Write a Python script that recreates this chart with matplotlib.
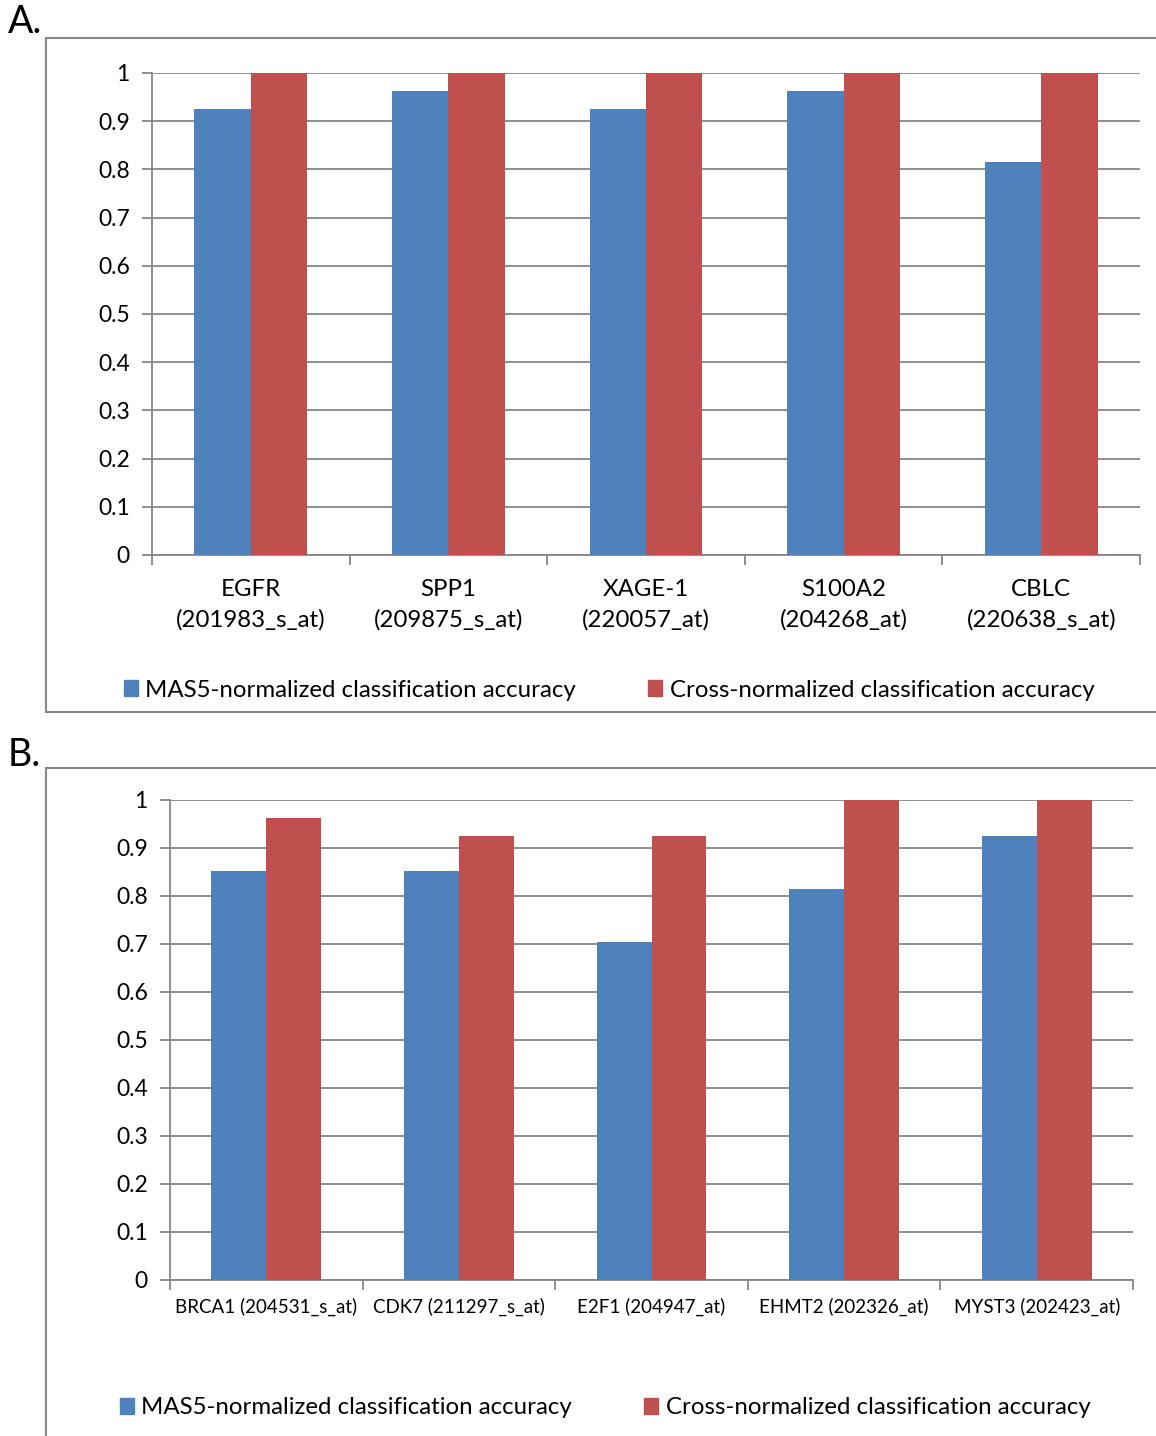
import matplotlib
matplotlib.use("Agg")
import matplotlib.pyplot as plt
from matplotlib.lines import Line2D
from matplotlib.patches import Patch
import numpy as np

plt.rcParams["font.family"] = ["Lato", "DejaVu Sans"]

# %% data
genes_a = ["EGFR\n(201983_s_at)", "SPP1\n(209875_s_at)", "XAGE-1\n(220057_at)",
           "S100A2\n(204268_at)", "CBLC\n(220638_s_at)"]
mas5_a = [0.926, 0.963, 0.926, 0.963, 0.815]
cross_a = [1.0, 1.0, 1.0, 1.0, 1.0]

genes_b = ["BRCA1 (204531_s_at)", "CDK7 (211297_s_at)", "E2F1 (204947_at)",
           "EHMT2 (202326_at)", "MYST3 (202423_at)"]
mas5_b = [0.852, 0.852, 0.704, 0.815, 0.926]
cross_b = [0.963, 0.926, 0.926, 1.0, 1.0]

series_names = ["MAS5-normalized classification accuracy",
                "Cross-normalized classification accuracy"]
BLUE = "#4F81BD"
RED = "#C0504D"
GRID = "#868686"

W, H = 1156, 1436
fig = plt.figure(figsize=(W / 100, H / 100), dpi=100)


def px_axes(x0, y0, x1, y1):
    return fig.add_axes([x0 / W, 1 - y1 / H, (x1 - x0) / W, (y1 - y0) / H])


def draw_panel(ax, labels, blue, red, xfs, xpad):
    x = np.arange(len(labels))
    bw = 0.285
    ax.bar(x - bw / 2, blue, bw, color=BLUE, zorder=3)
    ax.bar(x + bw / 2, red, bw, color=RED, zorder=3)
    ax.set_xlim(-0.5, len(labels) - 0.5)
    ax.set_ylim(0, 1)
    ax.set_yticks(np.arange(0, 1.01, 0.1))
    ax.set_yticklabels(["0"] + [f"{v:.1f}" for v in np.arange(0.1, 0.95, 0.1)] + ["1"],
                       fontsize=16.5)
    ax.yaxis.grid(True, color=GRID, lw=1.3, zorder=0)
    ax.set_axisbelow(True)
    ax.set_xticks(np.arange(-0.5, len(labels), 1.0))
    ax.set_xticklabels([])
    ax.set_xticks(x, minor=True)
    ax.set_xticklabels(labels, minor=True, fontsize=xfs, linespacing=1.55)
    ax.tick_params(axis="x", which="minor", length=0, pad=xpad)
    ax.tick_params(axis="x", which="major", length=7, color=GRID, width=1.3)
    ax.tick_params(axis="y", length=7, color=GRID, width=1.3, pad=9)
    for s in ["top", "right"]:
        ax.spines[s].set_visible(False)
    for s in ["left", "bottom"]:
        ax.spines[s].set_color(GRID)
        ax.spines[s].set_linewidth(1.3)


ax_a = px_axes(152, 73, 1140, 555)
draw_panel(ax_a, genes_a, mas5_a, cross_a, 17.3, 17)
ax_b = px_axes(170, 800, 1133, 1280)
draw_panel(ax_b, genes_b, mas5_b, cross_b, 13.5, 13)

handles = [Patch(color=BLUE), Patch(color=RED)]
for xcen, ycen in ((609, 690), (605, 1408)):
    fig.legend(handles, series_names, loc="center", ncol=2,
               bbox_to_anchor=(xcen / W, 1 - ycen / H), frameon=False,
               fontsize=17.3, handlelength=0.6, handleheight=0.6,
               handletextpad=0.3, columnspacing=3.0)

# panel frames
box = dict(color="#888888", lw=1.5, transform=fig.transFigure)
fig.add_artist(Line2D([46 / W, 46 / W], [1 - 38 / H, 1 - 712 / H], **box))
fig.add_artist(Line2D([46 / W, 1], [1 - 38 / H, 1 - 38 / H], **box))
fig.add_artist(Line2D([46 / W, 1], [1 - 712 / H, 1 - 712 / H], **box))
fig.add_artist(Line2D([46 / W, 46 / W], [1 - 768 / H, 0], **box))
fig.add_artist(Line2D([46 / W, 1], [1 - 768 / H, 1 - 768 / H], **box))

fig.text(8 / W, 1 - 22 / H, "A.", fontsize=27, va="center", ha="left")
fig.text(8 / W, 1 - 755 / H, "B.", fontsize=27, va="center", ha="left")

fig.savefig("out.png", dpi=100)
